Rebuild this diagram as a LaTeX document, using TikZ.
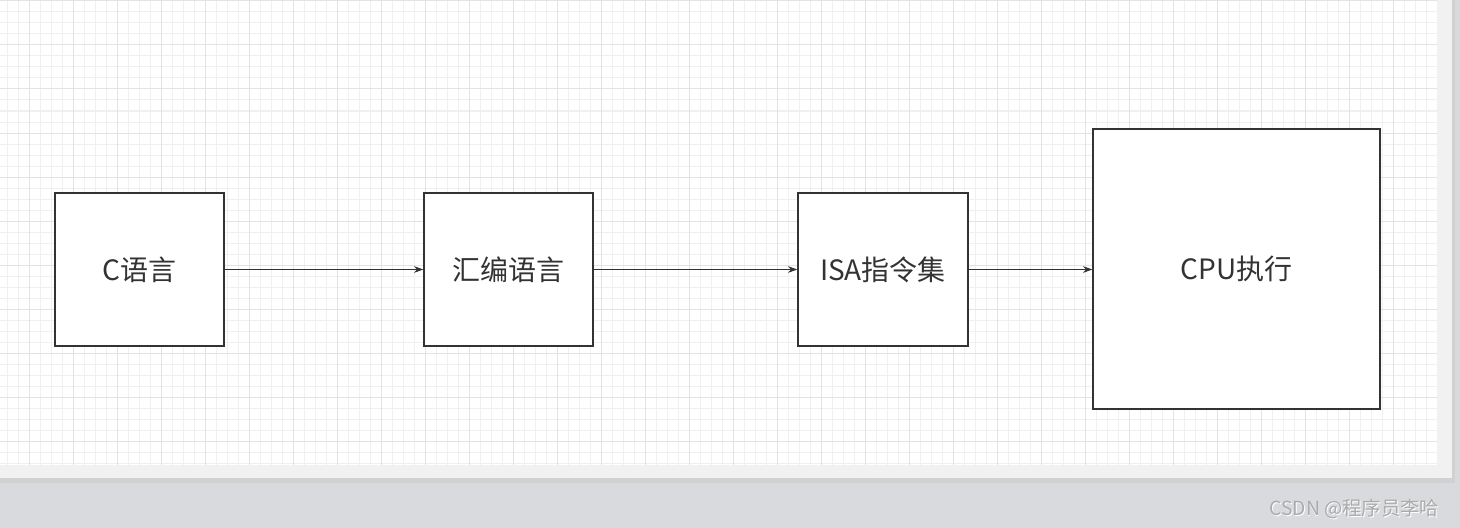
\documentclass[tikz,border=0pt]{standalone}
\usepackage{fontspec}
\setmainfont{Noto Sans CJK SC}
\usetikzlibrary{arrows.meta}

\definecolor{inkgrey}{HTML}{333333}
\definecolor{minorgrid}{HTML}{F0F0F0}
\definecolor{majorgrid}{HTML}{E3E3E3}
\definecolor{pagegrey}{HTML}{D9DADE}
\definecolor{bandgrey}{HTML}{F1F1F1}

\tikzset{
  stagebox/.style={draw=inkgrey, line width=1pt, fill=white, text=inkgrey,
    font=\fontsize{21}{24}\selectfont, inner sep=0pt},
  flowarrow/.style={draw=inkgrey, line width=0.8pt,
    -{Stealth[length=7pt, width=5pt]}}
}

\begin{document}
\begin{tikzpicture}[x=0.75pt, y=-0.75pt]
% Fix the page size (pixels of the reference)
\useasboundingbox (0,0) rectangle (1460,528);

% Background, light band and grid paper
\fill[pagegrey] (0,0) rectangle (1460,528);
\fill[black!18] (0,478) rectangle (1455,483);
\fill[black!18] (1452,0) rectangle (1455,483);
\fill[bandgrey] (0,0) rectangle (1452,478);
\fill[white] (0,0) rectangle (1437,465);
\foreach \x in {7.3,18.3,...,1437} {
  \draw[minorgrid, line width=0.75pt] (\x,0) -- (\x,465);
}
\foreach \y in {1,12,...,465} {
  \draw[minorgrid, line width=0.75pt] (0,\y) -- (1437,\y);
}
\foreach \x in {29.3,73.3,...,1437} {
  \draw[majorgrid, line width=0.75pt] (\x,0) -- (\x,465);
}
\foreach \y in {1,45,...,465} {
  \draw[majorgrid, line width=0.75pt] (0,\y) -- (1437,\y);
}

% The four stages
\node[stagebox, minimum width=126.75pt, minimum height=114.75pt] (clang) at (139.5,269.5) {C语言};
\node[stagebox, minimum width=126.75pt, minimum height=114.75pt] (asm) at (508.5,269.5) {汇编语言};
\node[stagebox, minimum width=127.5pt, minimum height=114.75pt] (isa) at (883,269.5) {ISA指令集};
\node[stagebox, minimum width=215.25pt, minimum height=210pt] (cpu) at (1236.5,269) {CPU执行};

% Arrows between the stages
\draw[flowarrow] (clang) -- (asm);
\draw[flowarrow] (asm) -- (isa);
\draw[flowarrow] (isa) -- (cpu.west |- isa.east);

% Watermark
\node[text=white, font=\fontsize{14.5}{16}\selectfont, anchor=east] (markshade) at (1444.8,509.8) {CSDN @程序员李哈};
\node[text=black!33, font=\fontsize{14.5}{16}\selectfont, anchor=east] (mark) at (1444,509) {CSDN @程序员李哈};
\end{tikzpicture}
\end{document}
